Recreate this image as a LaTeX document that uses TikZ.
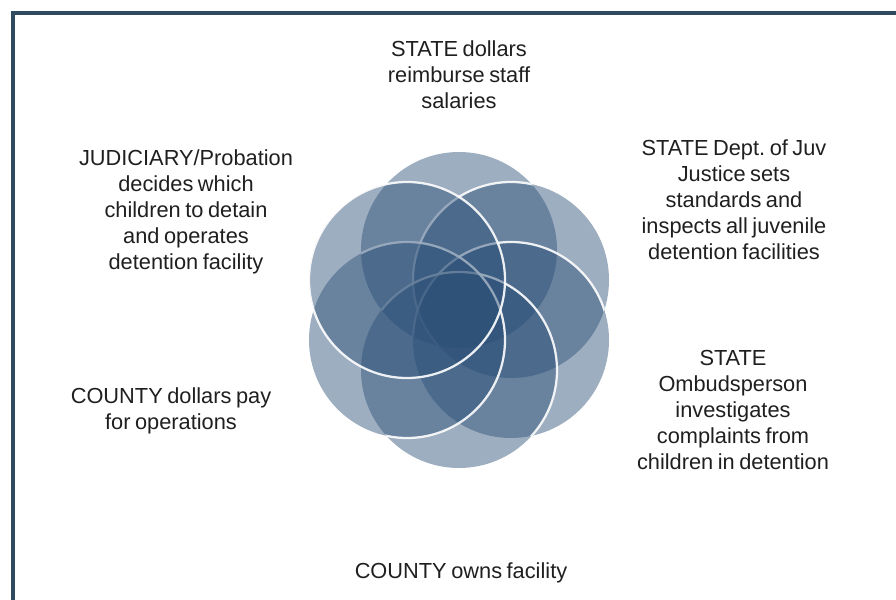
\documentclass[tikz,border=0pt]{standalone}
\usepackage{fontspec}
\setmainfont{Liberation Sans}[WordSpace=0.75]
\frenchspacing
\definecolor{framebar}{RGB}{47,75,98}
\definecolor{ringblue}{RGB}{42,78,118}
\tikzset{
	petal/.style={fill=ringblue, fill opacity=0.46},
	rim/.style={draw=white, line width=1.6pt, draw opacity=0.9},
	caption/.style={align=center, text=black!88, font=\fontsize{15.5}{18.5}\selectfont}
}

\begin{document}
\begin{tikzpicture}
				%%%%% START %%%%%
				\useasboundingbox (0, 0) rectangle (22.4, 14.975);
				\draw[framebar, line width=3.5pt] (0.325, -1) rectangle (23.5, 14.65);
				
				% top circle, no rim over the paper
				\fill[petal] (11.475, 8.725) circle (2.45);
				
				% upper right
				\fill[petal] (12.775, 7.975) circle (2.45);
				\begin{scope}
					\clip (11.475, 8.725) circle (2.45);
					\draw[rim] (12.775, 7.975) circle (2.45);
				\end{scope}
				
				% lower right
				\fill[petal] (12.775, 6.475) circle (2.45);
				\begin{scope}
					\clip (11.475, 8.725) circle (2.45) (12.775, 7.975) circle (2.45);
					\draw[rim] (12.775, 6.475) circle (2.45);
				\end{scope}
				
				% bottom
				\fill[petal] (11.475, 5.725) circle (2.45);
				\begin{scope}
					\clip (11.475, 8.725) circle (2.45) (12.775, 7.975) circle (2.45) (12.775, 6.475) circle (2.45);
					\draw[rim] (11.475, 5.725) circle (2.45);
				\end{scope}
				
				% lower left
				\fill[petal] (10.175, 6.475) circle (2.45);
				\begin{scope}
					\clip (11.475, 8.725) circle (2.45) (12.775, 7.975) circle (2.45) (12.775, 6.475) circle (2.45) (11.475, 5.725) circle (2.45);
					\draw[rim] (10.175, 6.475) circle (2.45);
				\end{scope}
				
				% upper left, rim all round
				\fill[petal] (10.175, 7.975) circle (2.45);
				\draw[rim] (10.175, 7.975) circle (2.45);
				
				% captions
				\node[caption] (salaries) at (11.475, 13.1) {STATE dollars\\reimburse staff\\salaries};
				\node[caption] (judiciary) at (4.65, 9.675) {JUDICIARY/Probation\\decides which\\children to detain\\and operates\\detention facility};
				\node[caption] (djj) at (18.35, 9.975) {STATE Dept. of Juv\\Justice sets\\standards and\\inspects all juvenile\\detention facilities};
				\node[caption] (operations) at (4.275, 4.7) {COUNTY dollars pay\\for operations};
				\node[caption] (ombudsperson) at (18.325, 4.725) {STATE\\Ombudsperson\\investigates\\complaints from\\children in detention};
				\node[caption] (owns) at (11.525, 0.65) {COUNTY owns facility};
				%%%%% END %%%%%
\end{tikzpicture}
\end{document}
